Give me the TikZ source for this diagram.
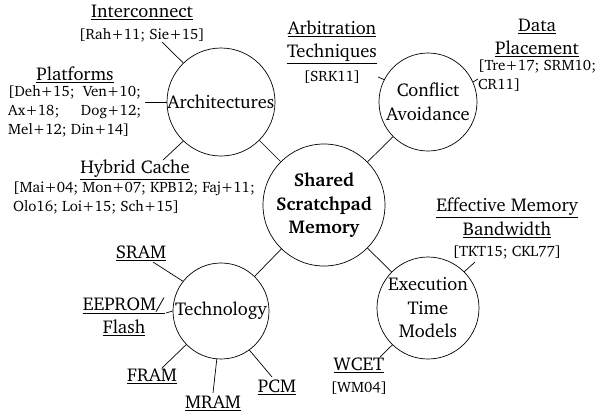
\documentclass[tikz,border=0pt]{standalone}
\usepackage[T1]{fontenc}
\usepackage{charter}
\newcommand{\mainsz}{\fontsize{18.5}{23.5}\selectfont}
\newcommand{\citesz}{\fontsize{15}{19}\selectfont}
\begin{document}
\begin{tikzpicture}[x=1pt,y=-1pt,
  hub/.style={circle,draw,line width=0.7pt,inner sep=0pt,align=center,font=\mainsz},
  topic/.style={inner sep=0pt,align=center,font=\mainsz},
  refs/.style={inner sep=0pt,font=\citesz},
  link/.style={line width=0.7pt}]
\useasboundingbox (0,0) rectangle (597,416);

% hubs
\node[hub,minimum size=122pt,font=\mainsz\bfseries] (ssm) at (324,205) {Shared\\Scratchpad\\Memory};
\node[hub,minimum size=108pt] (arch) at (221,102) {Architectures};
\node[hub,minimum size=98pt] (conf) at (428,102) {Conflict\\Avoidance};
\node[hub,minimum size=96pt] (tech) at (221,311) {Technology};
\node[hub,minimum size=102pt] (exec) at (428,308) {Execution\\Time\\Models};

\draw[link] (ssm) -- (arch);
\draw[link] (ssm) -- (conf);
\draw[link] (ssm) -- (tech);
\draw[link] (ssm) -- (exec);

% architectures
\node[topic] (ic) at (142,12) {\underline{Interconnect}};
\node[refs] (icr) at (142,35) {[Rah+11; Sie+15]};
\node[topic] (pf) at (75,75) {\underline{Platforms}};
\node[refs,anchor=west,align=left] (pfr) at (8,111) {[Deh+15;\ \ Ven+10;\\\makebox[133pt][s]{Ax+18; Dog+12;}\\Mel+12; Din+14]};
\node[topic] (hc) at (135,170) {\underline{Hybrid Cache}};
\node[refs,anchor=west,align=left] (hcr) at (13,198) {[Mai+04; Mon+07; KPB12; Faj+11;\\Olo16; Loi+15; Sch+15]};
\coordinate (icend) at (162,42);
\coordinate (pfend) at (145,102);
\coordinate (hcend) at (163,160);
\draw[link] (icend) -- (arch.134);
\draw[link] (pfend) -- (arch.180);
\draw[link] (hcend) -- (arch.226);

% conflict avoidance
\node[topic] (arb) at (332,42) {\underline{Arbitration}\\\underline{Techniques}};
\node[refs] (arbr) at (332,77) {[SRK11]};
\node[topic] (dp) at (537,38) {\underline{Data}\\\underline{Placement}};
\node[refs,anchor=west,align=left] (dpr) at (478,76) {[Tre+17; SRM10;\\CR11]};
\coordinate (arbend) at (378,77);
\coordinate (dpend) at (478,79);
\draw[link] (arbend) -- (conf.153);
\draw[link] (dpend) -- (conf.24);

% execution time models
\node[topic] (emb) at (507,218) {\underline{Effective Memory}\\\underline{Bandwidth}};
\node[refs] (embr) at (507,252) {[TKT15; CKL77]};
\node[topic] (wc) at (359,365) {\underline{WCET}};
\node[refs] (wcr) at (359,388) {[WM04]};
\coordinate (embend) at (475,262);
\coordinate (wcend) at (380,357);
\draw[link] (embend) -- (exec.45);
\draw[link] (wcend) -- (exec.226);

% technology
\node[topic] (sram) at (141,253) {\underline{SRAM}};
\node[topic] (ee) at (124,317) {\underline{EEPROM/}\\\underline{Flash}};
\node[topic] (fram) at (152,376) {\underline{FRAM}};
\node[topic] (mram) at (213,403) {\underline{MRAM}};
\node[topic] (pcm) at (277,387) {\underline{PCM}};
\coordinate (sramend) at (153,262);
\coordinate (eeend) at (166,313);
\coordinate (framend) at (162,368);
\coordinate (mramend) at (213,393);
\coordinate (pcmend) at (272,377);
\draw[link] (sramend) -- (tech.142);
\draw[link] (eeend) -- (tech.180);
\draw[link] (framend) -- (tech.224);
\draw[link] (mramend) -- (tech.265);
\draw[link] (pcmend) -- (tech.306);
\end{tikzpicture}
\end{document}
